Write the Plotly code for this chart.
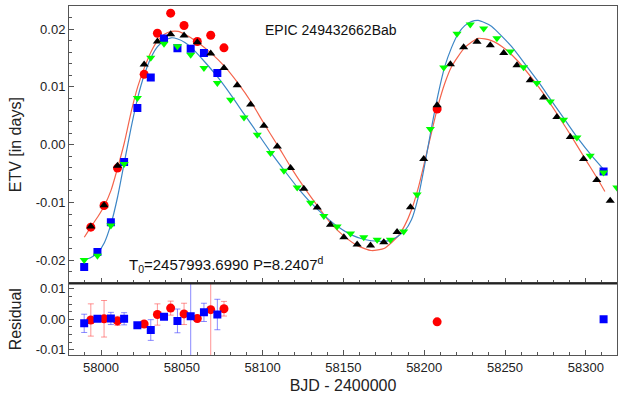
import plotly.graph_objects as go
from plotly.subplots import make_subplots

# --- observed ETVs ---
black_t = [57993.7, 58001.9, 58010.2, 58026.7, 58034.9, 58043.1, 58051.4, 58059.6, 58067.9, 58076.1,
           58084.3, 58092.6, 58100.8, 58109.1, 58117.3, 58125.5, 58133.8, 58142.0, 58150.3, 58158.5,
           58166.8, 58175.0, 58183.2, 58191.5, 58199.7, 58208.0, 58216.2, 58224.4, 58232.7, 58240.9,
           58249.2, 58257.4, 58265.6, 58273.9, 58282.1, 58290.4, 58298.6, 58306.8, 58315.1]
black_etv = [-0.01416, -0.01045, -0.00364, 0.01386, 0.01785, 0.01912, 0.01889, 0.01773, 0.01577, 0.01329,
             0.01028, 0.00698, 0.00329, -0.00029, -0.00404, -0.00763, -0.01087, -0.01386, -0.01600, -0.01728,
             -0.01745, -0.01686, -0.01508, -0.01080, -0.00248, 0.00681, 0.01392, 0.01686, 0.01780, 0.01721,
             0.01589, 0.01374, 0.01114, 0.00815, 0.00480, 0.00133, -0.00248, -0.00612, -0.00971]

green_t = [57989.6, 57997.8, 58006.1, 58014.3, 58022.5, 58030.8, 58039.0, 58047.3, 58055.5, 58063.7,
           58072.0, 58080.2, 58088.5, 58096.7, 58104.9, 58113.2, 58121.4, 58129.7, 58137.9, 58146.1,
           58154.4, 58162.6, 58170.9, 58179.1, 58187.3, 58195.6, 58203.8, 58212.1, 58220.3, 58228.5,
           58236.8, 58245.0, 58253.3, 58261.5, 58269.7, 58278.0, 58286.2, 58294.5, 58302.7, 58311.0, 58319.2]
green_etv = [-0.01993, -0.01919, -0.01399, -0.00334, 0.00809, 0.01503, 0.01745, 0.01704, 0.01555, 0.01329,
             0.01069, 0.00780, 0.00473, 0.00173, -0.00144, -0.00451, -0.00740, -0.01005, -0.01231, -0.01416,
             -0.01537, -0.01600, -0.01646, -0.01646, -0.01503, -0.00861, 0.00272, 0.01334, 0.01919, 0.02080,
             0.02010, 0.01842, 0.01612, 0.01340, 0.01069, 0.00750, 0.00433, 0.00125, -0.00191, -0.00480, -0.00740]

red_t = [57993.7, 58001.9, 58010.2, 58026.7, 58034.9, 58043.1, 58051.4, 58059.6, 58067.9, 58076.1, 58208.0]
red_etv = [-0.01426, -0.01052, -0.00404, 0.01218, 0.01929, 0.02276, 0.02062, 0.01785, 0.01894, 0.01676, 0.00619]
red_res = [-0.0002, 0.0002, -0.0005, -0.0015, 0.0016, 0.0037, 0.0018, 0.0003, 0.0032, 0.0035, -0.0008]
red_err = [0.0053, 0.0060, 0.0015, 0.0005, 0.0035, 0.0023, 0.0035, 0.0005, 0.05, 0.0024, 0.0005]

blue_t = [57989.6, 57997.8, 58006.1, 58014.3, 58022.5, 58030.8, 58039.0, 58047.3, 58055.5, 58063.7, 58072.0, 58311.0]
blue_etv = [-0.02114, -0.01854, -0.01340, -0.00300, 0.00636, 0.01161, 0.01837, 0.01669, 0.01659, 0.01589, 0.01243, -0.00463]
blue_res = [-0.0013, 0.0002, 0.0003, 0.0002, -0.0019, -0.0035, 0.0009, -0.0005, 0.0010, 0.0023, 0.0016, 0.0000]
blue_err = [0.0030, 0.0005, 0.0020, 0.0020, 0.0005, 0.0034, 0.0005, 0.0039, 0.05, 0.0030, 0.0050, 0.0005]

# --- model curves ---
red_model_t = [57989.65, 57993.8, 57997.95, 58002.0, 58006.2, 58010.3, 58014.4, 58018.6, 58022.7, 58026.8,
               58031.0, 58035.1, 58039.2, 58043.6, 58047.7, 58051.9, 58059.9, 58068.3, 58076.6, 58084.9,
               58093.1, 58101.2, 58109.5, 58117.7, 58126.0, 58134.3, 58142.5, 58150.7, 58159.0, 58167.3,
               58175.5, 58183.8, 58187.9, 58192.1, 58196.2, 58200.3, 58204.5, 58208.6, 58212.7, 58216.9,
               58225.1, 58233.4, 58241.6, 58249.9, 58258.2, 58266.4, 58274.7, 58283.0, 58291.2, 58299.5,
               58307.7, 58311.8]
red_model = [-0.0160, -0.0142, -0.0125, -0.0106, -0.0079, -0.0040, 0.0003, 0.0056, 0.0100, 0.0133,
             0.0161, 0.0180, 0.0191, 0.0196, 0.0196, 0.0191, 0.0177, 0.0158, 0.0135, 0.0106,
             0.0073, 0.0035, -0.0002, -0.0040, -0.0075, -0.0107, -0.0137, -0.0159, -0.0175, -0.0183,
             -0.0179, -0.0158, -0.0140, -0.0113, -0.0076, -0.0029, 0.0021, 0.0068, 0.0106, 0.0135,
             0.0168, 0.0184, 0.0180, 0.0166, 0.0144, 0.0116, 0.0085, 0.0050, 0.0014, -0.0024,
             -0.0061, -0.0081]

blue_model_t = [57989.65, 57993.8, 57997.95, 58002.0, 58006.2, 58010.3, 58014.4, 58018.6, 58022.7, 58026.8,
                58031.0, 58035.1, 58039.2, 58043.4, 58047.5, 58051.9, 58056.0, 58064.0, 58072.5, 58080.7,
                58088.8, 58097.1, 58105.3, 58113.6, 58121.9, 58130.1, 58138.4, 58146.7, 58154.9, 58163.1,
                58171.4, 58179.7, 58187.9, 58192.1, 58196.2, 58200.3, 58204.5, 58208.6, 58212.7, 58216.9,
                58221.0, 58225.1, 58229.2, 58233.4, 58237.5, 58241.6, 58245.8, 58254.0, 58262.3, 58270.6,
                58278.8, 58287.1, 58295.4, 58303.6, 58311.1]
blue_model = [-0.0199, -0.0195, -0.0187, -0.0170, -0.0137, -0.0090, -0.0031, 0.0029, 0.0081, 0.0121,
              0.0151, 0.0170, 0.0180, 0.0185, 0.0183, 0.0177, 0.0168, 0.0144, 0.0116, 0.0085,
              0.0052, 0.0019, -0.0014, -0.0045, -0.0075, -0.0101, -0.0123, -0.0142, -0.0156, -0.0164,
              -0.0167, -0.0165, -0.0149, -0.0130, -0.0092, -0.0035, 0.0029, 0.0087, 0.0135, 0.0168,
              0.0192, 0.0206, 0.0213, 0.0215, 0.0211, 0.0205, 0.0194, 0.0170, 0.0140, 0.0109,
              0.0076, 0.0043, 0.0010, -0.0019, -0.0043]

main_ticks = [0.02, 0.01, 0.0, -0.01, -0.02]
main_labels = ["0.02", "0.01", "0.00", "-0.01", "-0.02"]
res_ticks = [0.01, 0.0, -0.01]
res_labels = ["0.01", "0.00", "-0.01"]

fig = make_subplots(rows=2, cols=1, shared_xaxes=True, vertical_spacing=0, row_heights=[0.795, 0.205])

fig.add_trace(go.Scatter(x=red_model_t, y=red_model, mode="lines", line=dict(color="#f4644c", width=1.2, shape="spline", smoothing=0.6)), row=1, col=1)
fig.add_trace(go.Scatter(x=blue_model_t, y=blue_model, mode="lines", line=dict(color="#3c86c6", width=1.2, shape="spline", smoothing=0.6)), row=1, col=1)

fig.add_trace(go.Scatter(x=red_t, y=red_etv, mode="markers", marker=dict(symbol="circle", size=9, color="#ff0000")), row=1, col=1)
fig.add_trace(go.Scatter(x=blue_t, y=blue_etv, mode="markers", marker=dict(symbol="square", size=8, color="#0000ff")), row=1, col=1)
fig.add_trace(go.Scatter(x=black_t, y=black_etv, mode="markers", marker=dict(symbol="triangle-up", size=8, color="#000000")), row=1, col=1)
fig.add_trace(go.Scatter(x=green_t, y=green_etv, mode="markers", marker=dict(symbol="triangle-down", size=8, color="#00ff00")), row=1, col=1)

# residuals
fig.add_hline(y=0, line_color="#555555", line_width=1, row=2, col=1)
fig.add_trace(go.Scatter(
    x=red_t, y=red_res, mode="markers",
    marker=dict(symbol="circle", size=9, color="#ff0000"),
    error_y=dict(type="data", array=red_err, color="rgba(255,60,60,0.55)", thickness=1, width=3),
), row=2, col=1)
fig.add_trace(go.Scatter(
    x=blue_t, y=blue_res, mode="markers",
    marker=dict(symbol="square", size=8, color="#0000ff"),
    error_y=dict(type="data", array=blue_err, color="rgba(60,60,255,0.6)", thickness=1, width=3),
), row=2, col=1)

axis_style = dict(showline=True, linecolor="#555555", linewidth=1, mirror=True, ticks="inside",
                  ticklen=5, tickcolor="#555555", showgrid=False, zeroline=False, automargin=False)

fig.update_xaxes(range=[57980.2, 58319.3], dtick=50, tick0=58000, tickformat=".0f",
                 minor=dict(ticks="inside", ticklen=3, dtick=10, tickcolor="#555555"), **axis_style)
fig.update_xaxes(title_text="BJD - 2400000", title_standoff=6, row=2, col=1)
fig.update_yaxes(**axis_style)
fig.update_yaxes(range=[-0.024, 0.024], tickvals=main_ticks, ticktext=main_labels,
                 minor=dict(ticks="inside", ticklen=3, dtick=0.002, tickcolor="#555555"),
                 title_text="ETV [in days]", title_standoff=10, row=1, col=1)
fig.update_yaxes(range=[-0.0117, 0.0118], tickvals=res_ticks, ticktext=res_labels,
                 minor=dict(ticks="inside", ticklen=3, dtick=0.0025, tickcolor="#555555"),
                 title_text="Residual", title_standoff=10, row=2, col=1)

# thick divider between panels
fig.add_shape(type="line", xref="paper", yref="paper", x0=0, x1=1, y0=0.205, y1=0.205,
              line=dict(color="#222222", width=2))

fig.add_annotation(text="EPIC 249432662Bab", xref="paper", yref="paper", x=0.354, y=0.93,
                   xanchor="left", yanchor="middle", showarrow=False, font=dict(size=14, color="#111111"))
fig.add_annotation(text="T<sub>0</sub>=2457993.6990 P=8.2407<sup>d</sup>", xref="paper", yref="paper",
                   x=0.105, y=0.26, xanchor="left", yanchor="middle", showarrow=False,
                   font=dict(size=15, color="#111111"))

fig.update_layout(
    width=623, height=396,
    margin=dict(l=69, r=6, t=6, b=41),
    plot_bgcolor="white", paper_bgcolor="white",
    showlegend=False,
    font=dict(family="Liberation Sans, Arial, sans-serif", size=13, color="#222222"),
)

# drop the browser's default page margin so the figure sits at the window corner
fig.write_html("out.html", config={"displayModeBar": False},
               post_script="document.body.style.margin='0';")
